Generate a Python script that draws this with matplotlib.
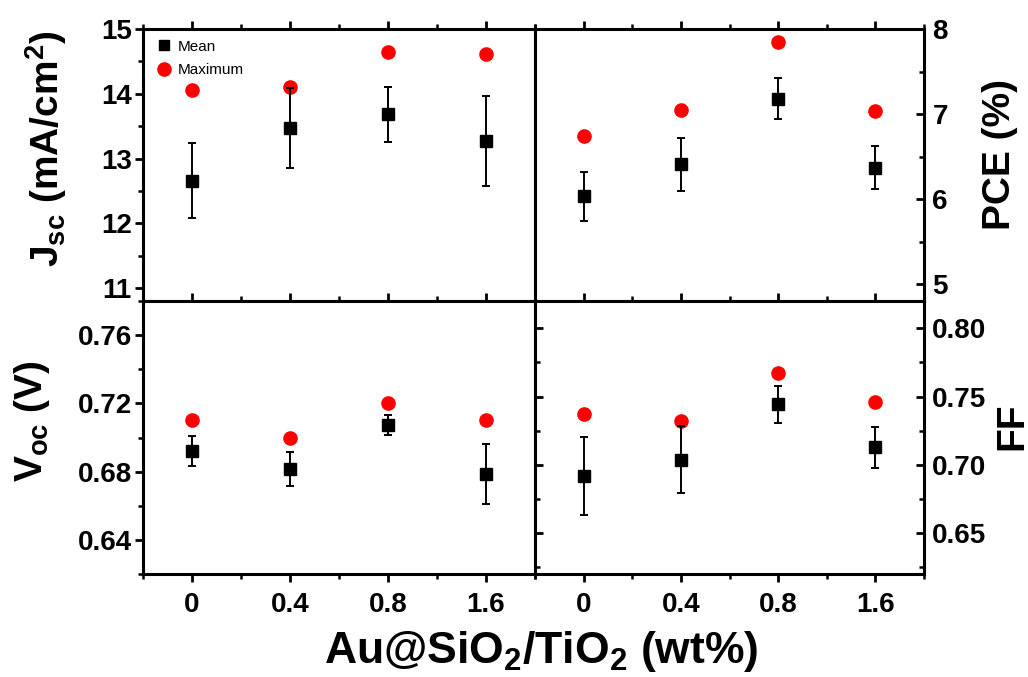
"""Au@SiO2/TiO2 loading vs. photovoltaic parameters: 2x2 panel with mean +/- sd and maximum."""

import matplotlib

matplotlib.use("Agg")
import matplotlib.pyplot as plt
import numpy as np
from matplotlib.lines import Line2D
from matplotlib.ticker import FixedLocator, FormatStrFormatter, MultipleLocator

plt.rcParams["font.family"] = ["Liberation Sans", "DejaVu Sans"]
plt.rcParams["font.weight"] = "bold"
plt.rcParams["mathtext.default"] = "regular"

loadings = ["0", "0.4", "0.8", "1.6"]

jsc_mean = [12.66, 13.47, 13.68, 13.27]
jsc_err = [0.58, 0.62, 0.42, 0.70]
jsc_max = [14.06, 14.11, 14.64, 14.61]

pce_mean = [6.03, 6.41, 7.18, 6.37]
pce_err = [0.29, 0.31, 0.24, 0.255]
pce_max = [6.74, 7.05, 7.85, 7.03]

voc_mean = [0.692, 0.6815, 0.7073, 0.6787]
voc_err = [0.0087, 0.010, 0.006, 0.0174]
voc_max = [0.710, 0.700, 0.720, 0.710]

ff_mean = [0.6918, 0.7037, 0.7443, 0.7128]
ff_err = [0.0287, 0.0246, 0.0136, 0.015]
ff_max = [0.7372, 0.7321, 0.767, 0.7463]

W, H = 1028, 677
fig = plt.figure(figsize=(W / 100, H / 100), dpi=100)


def frac(x0, y0, x1, y1):
    return [x0 / W, 1 - y1 / H, (x1 - x0) / W, (y1 - y0) / H]


ax_j = fig.add_axes(frac(143, 29, 535, 301))
ax_p = fig.add_axes(frac(535, 29, 924, 301))
ax_v = fig.add_axes(frac(143, 301, 535, 574))
ax_f = fig.add_axes(frac(535, 301, 924, 574))

x = np.arange(len(loadings))


def panel(ax, mean, err, mx, ylim, major, minor, fmt, label, right, bottom):
    ax.plot(x, mx, "o", color="red", ms=9.5, mec="red", zorder=2)
    ax.errorbar(x, mean, yerr=err, fmt="s", color="black", ms=8, elinewidth=1.4,
                capsize=3, capthick=1.4, zorder=3)
    ax.set_xlim(-0.5, 3.5)
    ax.set_ylim(*ylim)
    ax.xaxis.set_major_locator(FixedLocator(x))
    ax.xaxis.set_minor_locator(MultipleLocator(0.5))
    ax.yaxis.set_major_locator(MultipleLocator(major))
    ax.yaxis.set_minor_locator(MultipleLocator(minor))
    ax.yaxis.set_major_formatter(FormatStrFormatter(fmt))
    for s in ax.spines.values():
        s.set_linewidth(2.2)
    ax.tick_params(axis="both", which="major", width=2, length=6, labelsize=20)
    ax.tick_params(axis="both", which="minor", width=1.8, length=3.5)
    ax.tick_params(axis="x", which="both", labelbottom=bottom, pad=7)
    ax.tick_params(axis="x", which="both", top=True, direction="in")
    ax.tick_params(axis="x", which="both", bottom=True, direction="out")
    if bottom:
        ax.set_xticks(x, loadings)
    if right:
        ax.tick_params(axis="y", which="both", left=True, right=True, direction="in",
                       labelleft=False, labelright=True, pad=6)
        ax.yaxis.set_label_position("right")
    else:
        ax.tick_params(axis="y", which="both", left=True, right=False, direction="out",
                       labelleft=True, pad=2)
    ax.set_ylabel(label, fontsize=28, fontweight="bold")


panel(ax_j, jsc_mean, jsc_err, jsc_max, (10.8, 15), 1, 0.5, "%d",
      r"J$_{sc}$ (mA/cm$^{2}$)", False, False)
panel(ax_p, pce_mean, pce_err, pce_max, (4.8, 8), 1, 0.5, "%d",
      "PCE (%)", True, False)
panel(ax_v, voc_mean, voc_err, voc_max, (0.62, 0.78), 0.04, 0.02, "%.2f",
      r"V$_{oc}$ (V)", False, True)
panel(ax_f, ff_mean, ff_err, ff_max, (0.62, 0.82), 0.05, 0.025, "%.2f",
      "FF", True, True)

# top row: the middle line carries the Jsc ticks, pointing into the PCE panel
ax_j.tick_params(axis="y", which="both", right=True, direction="out")
ax_j.tick_params(axis="y", which="both", left=True, direction="out")
ax_p.tick_params(axis="y", which="both", left=False)

ax_j.yaxis.set_label_coords(-0.19, 0.56)
ax_v.yaxis.set_label_coords(-0.232, 0.56)
ax_p.yaxis.set_label_coords(1.148, 0.54)
ax_f.yaxis.set_label_coords(1.18, 0.54)

handles = [
    Line2D([], [], ls="none", marker="s", ms=7.5, color="black"),
    Line2D([], [], ls="none", marker="o", ms=9.5, color="red"),
]
ax_j.legend(handles, ["Mean", "Maximum"], loc="upper left", frameon=False,
            prop={"size": 11, "weight": "normal"}, handletextpad=0.2,
            borderaxespad=0.3, labelspacing=0.6, handlelength=1.4)

fig.text(541 / W, 1 - 663 / H, r"Au@SiO$_{2}$/TiO$_{2}$ (wt%)", fontsize=32,
         fontweight="bold", ha="center", va="baseline")

fig.savefig("out.png", dpi=100)
